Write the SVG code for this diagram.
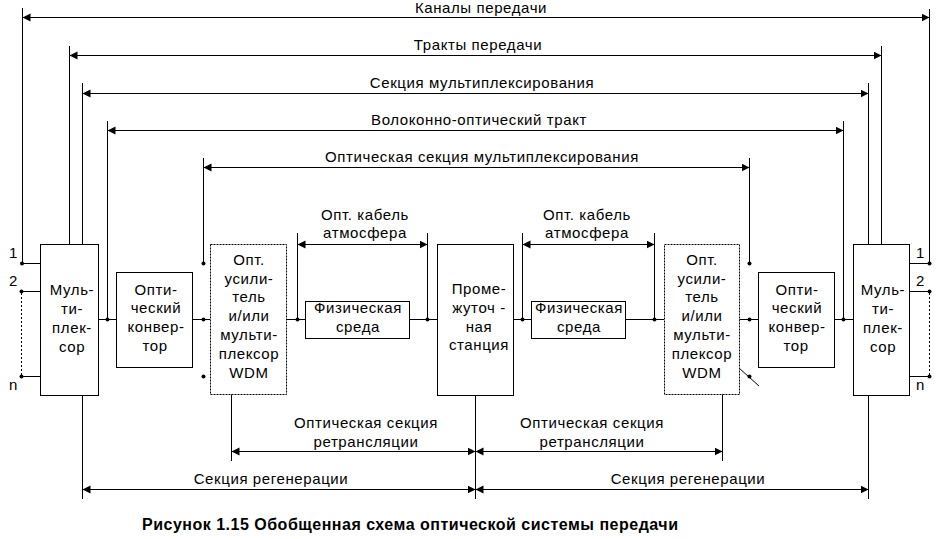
<svg xmlns="http://www.w3.org/2000/svg" width="937" height="539" viewBox="0 0 937 539">
<style>
text{font-family:"Liberation Sans",Arial,sans-serif;font-size:15px;fill:#000;letter-spacing:0.6px}
.m{text-anchor:middle}
.ln{stroke:#000;stroke-width:1;fill:none}
.box{stroke:#000;stroke-width:1;fill:#fff}
.dbox{stroke:#000;stroke-width:1;fill:#fff;stroke-dasharray:2,1}
.dot{fill:#000}
.dotted{stroke:#000;stroke-width:1;fill:none;stroke-dasharray:2,2}
.arr{stroke:#000;stroke-width:1;fill:none;marker-start:url(#ah);marker-end:url(#ah)}
.cap{font-weight:bold;font-size:16px;letter-spacing:0.5px}
</style>
<defs>
<marker id="ah" markerUnits="userSpaceOnUse" markerWidth="9" markerHeight="9" refX="8" refY="4" orient="auto-start-reverse">
<path d="M0,0 L8,4 L0,8 z" fill="#000"/>
</marker>
</defs>
<rect width="937" height="539" fill="#fff"/>

<g id="connectors">
<!-- top spans -->
<line class="arr" x1="22.5" y1="17.5" x2="929.5" y2="17.5"/>
<line class="arr" x1="69.5" y1="55.5" x2="881.5" y2="55.5"/>
<line class="arr" x1="82.5" y1="93.5" x2="868.5" y2="93.5"/>
<line class="arr" x1="107.5" y1="130.5" x2="843.5" y2="130.5"/>
<line class="arr" x1="203.5" y1="167.5" x2="749.5" y2="167.5"/>
<!-- top verticals -->
<path class="ln" d="M22.5,8 V263.5 M929.5,9 V263.5 M69.5,46 V244 M881.5,46 V244 M82.5,83 V244 M868.5,83 V244 M107.5,121 V319.5 M843.5,121 V319.5 M203.5,158 V263.5 M749.5,158 V263.5"/>
<!-- inputs / outputs -->
<path class="ln" d="M22.5,263.5 H40 M21.5,291.5 H40 M21.5,376.5 H40 M909,263.5 H929.5 M909,291.5 H929.5 M909,376.5 H929.5"/>
<path class="dotted" d="M21.5,293 V375 M929.5,293 V375"/>
<!-- main signal line -->
<path class="ln" d="M98,319.5 H116 M192,319.5 H210 M287,319.5 H305 M409,319.5 H437 M513,319.5 H531 M625,319.5 H664 M739,319.5 H758 M834,319.5 H853"/>
<!-- cable spans -->
<line class="arr" x1="297.5" y1="244.5" x2="427.5" y2="244.5"/>
<line class="arr" x1="522.5" y1="244.5" x2="654.5" y2="244.5"/>
<path class="ln" d="M297.5,233 V319.5 M427.5,233 V319.5 M522.5,233 V319.5 M654.5,233 V319.5"/>
<!-- diagonal mark -->
<path class="ln" d="M739,368 L759,386"/>
<!-- bottom verticals -->
<path class="ln" d="M82.5,395 V499 M231.5,394 V461 M475.5,395 V499 M722.5,394 V461 M868.5,395 V499"/>
<!-- bottom spans -->
<line class="arr" x1="231.5" y1="451.5" x2="475.5" y2="451.5"/>
<line class="arr" x1="475.5" y1="451.5" x2="722.5" y2="451.5"/>
<line class="arr" x1="82.5" y1="489.5" x2="475.5" y2="489.5"/>
<line class="arr" x1="475.5" y1="489.5" x2="868.5" y2="489.5"/>
<!-- junction dots -->
<circle class="dot" cx="22" cy="263.5" r="2"/>
<circle class="dot" cx="21.5" cy="291.5" r="2"/>
<circle class="dot" cx="21.5" cy="376.5" r="2"/>
<circle class="dot" cx="929.5" cy="263.5" r="2"/>
<circle class="dot" cx="929.5" cy="291.5" r="2"/>
<circle class="dot" cx="929.5" cy="376.5" r="2"/>
<circle class="dot" cx="107.5" cy="319.5" r="2"/>
<circle class="dot" cx="843.5" cy="319.5" r="2"/>
<circle class="dot" cx="203.5" cy="263.5" r="2"/>
<circle class="dot" cx="203.5" cy="319.5" r="2"/>
<circle class="dot" cx="203.5" cy="376.5" r="2"/>
<circle class="dot" cx="749.5" cy="263.5" r="2"/>
<circle class="dot" cx="749.5" cy="319.5" r="2"/>
<circle class="dot" cx="749.5" cy="376.5" r="2"/>
<circle class="dot" cx="297.5" cy="319.5" r="2"/>
<circle class="dot" cx="427.5" cy="319.5" r="2"/>
<circle class="dot" cx="522.5" cy="319.5" r="2"/>
<circle class="dot" cx="654.5" cy="319.5" r="2"/>
</g>

<g id="span-labels">
<text class="m" x="481" y="13">Каналы передачи</text>
<text class="m" x="478" y="50">Тракты передачи</text>
<text class="m" x="482" y="88">Секция мультиплексирования</text>
<text class="m" x="479" y="125">Волоконно-оптический тракт</text>
<text class="m" x="482" y="162">Оптическая секция мультиплексирования</text>
<text class="m" x="365" y="220">Опт. кабель</text>
<text class="m" x="365" y="238">атмосфера</text>
<text class="m" x="587" y="220">Опт. кабель</text>
<text class="m" x="587" y="238">атмосфера</text>
<text class="m" x="366" y="428">Оптическая секция</text>
<text class="m" x="366" y="447">ретрансляции</text>
<text class="m" x="592" y="428">Оптическая секция</text>
<text class="m" x="592" y="447">ретрансляции</text>
<text class="m" x="271" y="484">Секция регенерации</text>
<text class="m" x="688" y="484">Секция регенерации</text>
<text x="9" y="258">1</text>
<text x="9" y="286">2</text>
<text x="9" y="390">n</text>
<text x="916" y="258">1</text>
<text x="916" y="286">2</text>
<text x="916" y="390">n</text>
</g>

<g id="mux-left">
<rect class="box" x="40.5" y="244.5" width="58" height="151"/>
<text class="m" x="72" y="295">Муль-</text>
<text class="m" x="72" y="314">ти-</text>
<text class="m" x="72" y="333">плек-</text>
<text class="m" x="72" y="352">сор</text>
</g>

<g id="converter-left">
<rect class="box" x="116.5" y="272.5" width="76" height="95"/>
<text class="m" x="156" y="295">Опти-</text>
<text class="m" x="156" y="313">ческий</text>
<text class="m" x="156" y="332">конвер-</text>
<text class="m" x="155" y="351">тор</text>
</g>

<g id="amp-left">
<rect class="dbox" x="210.5" y="244.5" width="76" height="150"/>
<text class="m" x="249" y="265">Опт.</text>
<text class="m" x="249" y="284">усили-</text>
<text class="m" x="249" y="302">тель</text>
<text class="m" x="249" y="321">и/или</text>
<text class="m" x="249" y="340">мульти-</text>
<text class="m" x="249" y="359">плексор</text>
<text class="m" x="249" y="378">WDM</text>
</g>

<g id="medium-left">
<rect class="box" x="305.5" y="301.5" width="104" height="37"/>
<text class="m" x="358" y="313">Физическая</text>
<text class="m" x="358" y="332">среда</text>
</g>

<g id="station">
<rect class="box" x="437.5" y="244.5" width="76" height="151"/>
<text class="m" x="479" y="294">Проме-</text>
<text class="m" x="479" y="313">жуточ -</text>
<text class="m" x="479" y="332">ная</text>
<text class="m" x="479" y="350">станция</text>
</g>

<g id="medium-right">
<rect class="box" x="531.5" y="301.5" width="94" height="37"/>
<text class="m" x="579" y="313">Физическая</text>
<text class="m" x="579" y="332">среда</text>
</g>

<g id="amp-right">
<rect class="dbox" x="664.5" y="244.5" width="75" height="150"/>
<text class="m" x="702" y="265">Опт.</text>
<text class="m" x="702" y="284">усили-</text>
<text class="m" x="702" y="302">тель</text>
<text class="m" x="702" y="321">и/или</text>
<text class="m" x="702" y="340">мульти-</text>
<text class="m" x="702" y="359">плексор</text>
<text class="m" x="702" y="378">WDM</text>
</g>

<g id="converter-right">
<rect class="box" x="758.5" y="272.5" width="76" height="95"/>
<text class="m" x="797" y="295">Опти-</text>
<text class="m" x="797" y="313">ческий</text>
<text class="m" x="797" y="332">конвер-</text>
<text class="m" x="796" y="351">тор</text>
</g>

<g id="mux-right">
<rect class="box" x="853.5" y="244.5" width="56" height="151"/>
<text class="m" x="883" y="295">Муль-</text>
<text class="m" x="883" y="314">ти-</text>
<text class="m" x="883" y="333">плек-</text>
<text class="m" x="883" y="352">сор</text>
</g>

<text class="cap" x="142" y="530">Рисунок 1.15 Обобщенная схема оптической системы передачи</text>
</svg>
